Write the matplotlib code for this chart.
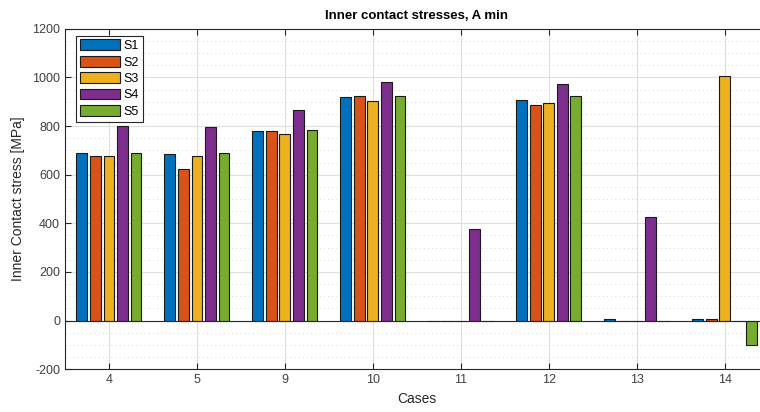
import numpy as np
import matplotlib
matplotlib.use('Agg')
import matplotlib.pyplot as plt
from matplotlib.ticker import MultipleLocator

cases = ['4', '5', '9', '10', '11', '12', '13', '14']
series_names = ['S1', 'S2', 'S3', 'S4', 'S5']
s1 = [690, 687, 780, 920, 0, 907, 8, 8]
s2 = [678, 625, 780, 922, 0, 886, 0, 8]
s3 = [678, 678, 768, 903, 0, 893, 0, 1008]
s4 = [800, 797, 868, 983, 375, 972, 424, 0]
s5 = [690, 690, 783, 922, 0, 922, 0, -100]
colors = ['#0072BD', '#D95319', '#EDB120', '#7E2F8E', '#77AC30']

plt.rcParams['font.family'] = ['Liberation Sans', 'DejaVu Sans']
plt.rcParams['axes.unicode_minus'] = False

fig = plt.figure(figsize=(7.6, 4.12), dpi=100)
ax = fig.add_axes([0.0855, 0.104, 0.926, 0.826])

x = np.arange(1, len(cases) + 1)
n = 5
group_w = min(0.8, n / (n + 1.5))
step = group_w / n
bar_w = step * 0.8
for i, (vals, name) in enumerate(zip([s1, s2, s3, s4, s5], series_names)):
    offs = (i - (n - 1) / 2) * step
    ax.bar(x + offs, vals, width=bar_w, color=colors[i], edgecolor='#1a1a1a',
           linewidth=0.8, label=name, zorder=3)

# baseline
ax.axhline(0, color='#262626', linewidth=0.8, zorder=4)

ax.set_xlim(0.5, 8.5)
ax.set_ylim(-200, 1200)
ax.set_xticks(x)
ax.set_xticklabels(cases)
ax.yaxis.set_major_locator(MultipleLocator(200))
ax.yaxis.set_minor_locator(MultipleLocator(50))

ax.grid(True, which='major', color='#dfdfdf', linewidth=0.8, zorder=0)
ax.grid(True, which='minor', axis='y', color='#c8c8c8', linewidth=0.6,
        linestyle=(0, (1, 4)), zorder=0)
ax.set_axisbelow(True)

ax.tick_params(which='both', direction='in', top=True, right=False,
               colors='#262626', labelcolor='#404040', labelsize=9)
ax.tick_params(which='minor', length=0)
ax.tick_params(which='major', length=4, width=0.8)
for sp in ax.spines.values():
    sp.set_color('#262626')
    sp.set_linewidth(0.8)

ax.set_title('Inner contact stresses, A min', fontsize=9.5, fontweight='bold', pad=7)
ax.set_xlabel('Cases', fontsize=10, color='#262626', labelpad=4)
ax.set_ylabel('Inner Contact stress [MPa]', fontsize=10, color='#262626', labelpad=5)

leg = ax.legend(loc='upper left', bbox_to_anchor=(0.016, 0.98), fontsize=9,
                handlelength=3.2, handleheight=0.95, handletextpad=0.3,
                labelspacing=0.3, borderpad=0.3, borderaxespad=0.0,
                fancybox=False, framealpha=1, edgecolor='#262626')
leg.get_frame().set_linewidth(0.8)

fig.savefig('out.png', dpi=100, facecolor='white')
